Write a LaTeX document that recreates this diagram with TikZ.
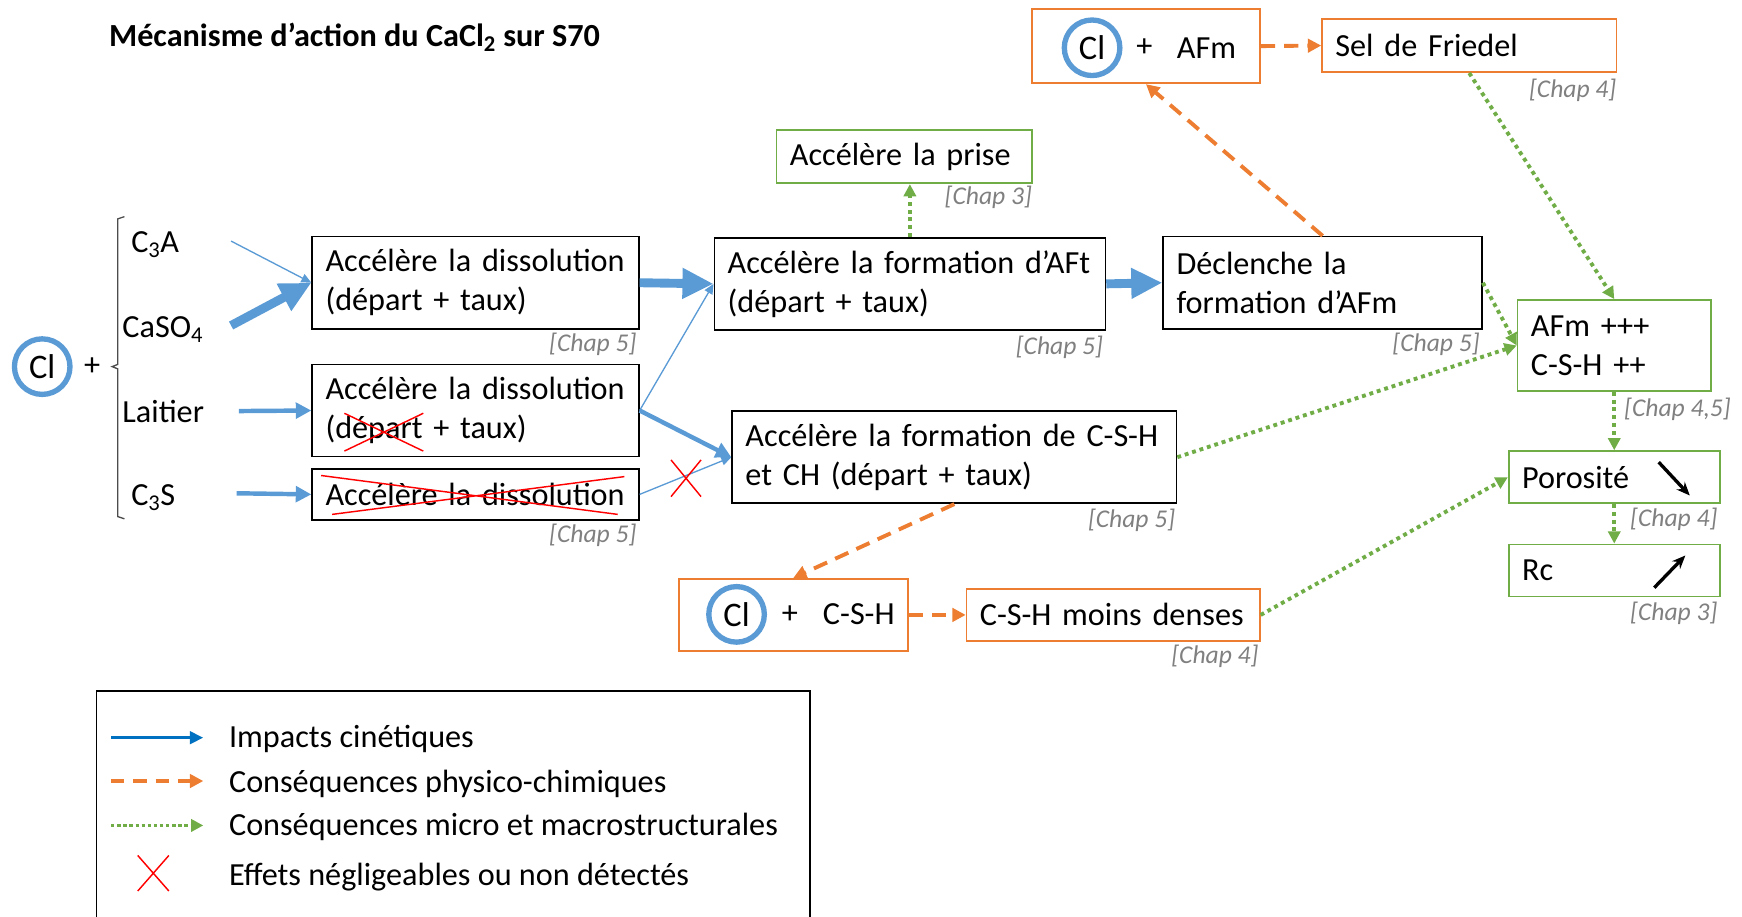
\documentclass[tikz,border=0pt]{standalone}
\usepackage{fontspec}
\setmainfont{Carlito}
\usetikzlibrary{arrows.meta,calc}
\definecolor{bl}{HTML}{5B9BD5}
\definecolor{og}{HTML}{ED7D31}
\definecolor{gr}{HTML}{70AD47}
\definecolor{dbl}{HTML}{0070C0}
\definecolor{chapgray}{HTML}{808080}
\begin{document}
\begin{tikzpicture}[x=1pt,y=-1pt,
 every node/.style={font=\fontsize{29}{35}\selectfont},
 box/.style={draw, line width=1.5pt, inner xsep=12pt, inner ysep=0pt, align=left, anchor=center},
 blackbox/.style={box, draw=black},
 obox/.style={box, draw=og},
 gbox/.style={box, draw=gr},
 chap/.style={font=\fontsize{23}{27}\selectfont\itshape, text=chapgray, anchor=east, inner sep=0pt},
 lbl/.style={anchor=base west, inner sep=0pt},
 clc/.style={circle, draw=bl, line width=4.8pt, minimum size=50pt, inner sep=0pt, font=\fontsize{31}{35}\selectfont},
 bthick/.style={draw=bl, line width=8pt, -{Triangle[length=28pt,width=26pt]}},
 bmed/.style={draw=bl, line width=4pt, -{Triangle[length=14pt,width=14pt]}},
 bthin/.style={draw=bl, line width=1.2pt, -{Triangle[length=9pt,width=8pt]}},
 gdot/.style={draw=gr, line width=3.5pt, dash pattern=on 3.5pt off 3.5pt, -{Triangle[length=11pt,width=11pt]}},
 odash/.style={draw=og, line width=3.5pt, dash pattern=on 13pt off 8pt, -{Triangle[length=12pt,width=12pt]}},
 redx/.style={draw=red, line width=1.3pt},
 blk/.style={draw=black, line width=3pt, -{Stealth[length=12pt,width=10pt]}}
]
\useasboundingbox (0,0) rectangle (1568,825);

% title
\node[anchor=base west, inner sep=0pt, font=\fontsize{29}{33}\selectfont\bfseries] (title) at (98,42) {Mécanisme d’action du CaCl\textsubscript{2} sur S70};

% left side
\node[clc] (cl0) at (38,330) {Cl};
\node[inner sep=0pt] (plus0) at (83,330) {+};
\draw[line width=1.2pt, black!70] (112,195) -- (106,197) -- (106,328) -- (101,330) -- (106,332) -- (106,465) -- (112,467);
\node[lbl] (c3a) at (118,227) {C\textsubscript{3}A};
\node[lbl] (caso) at (110,304) {CaSO\textsubscript{4}};
\node[lbl] (lait) at (110,380) {Laitier};
\node[lbl] (c3s) at (118,455) {C\textsubscript{3}S};

% boxes
\node[blackbox, text width=270pt, minimum height=83pt] (B1) at (428,254.5) {Accélère la dissolution\\(départ + taux)};
\node[blackbox, text width=270pt, minimum height=83pt] (B2) at (428,369.5) {Accélère la dissolution\\(départ + taux)};
\node[blackbox, text width=270pt, minimum height=46pt] (B3) at (428,445) {Accélère la dissolution};
\node[blackbox, text width=328pt, minimum height=83pt] (B4) at (819,255.5) {Accélère la formation d’AFt\\(départ + taux)};
\node[gbox, text width=206pt, minimum height=48pt] (B5) at (814,141) {Accélère la prise};
\node[blackbox, text width=263pt, minimum height=83pt] (B6) at (1190.5,254.5) {Déclenche la\\formation d’AFm};
\node[blackbox, text width=376pt, minimum height=83pt] (B7) at (859,411.5) {Accélère la formation de C-S-H\\et CH (départ + taux)};
\node[obox, minimum width=205pt, minimum height=67pt] (B8) at (1031.5,41.5) {};
\node[obox, text width=241pt, minimum height=48pt] (B9) at (1322.5,41) {Sel de Friedel};
\node[gbox, text width=150pt, minimum height=82pt] (B10) at (1453,311) {AFm +++\\C-S-H ++};
\node[gbox, text width=166pt, minimum height=47pt] (B11) at (1453,429.5) {Porosité};
\node[gbox, text width=166pt, minimum height=47pt] (B12) at (1453,513.5) {Rc};
\node[obox, minimum width=206pt, minimum height=65pt] (B13) at (714,553.5) {};
\node[obox, text width=240pt, minimum height=47pt] (B14) at (1002,553.5) {C-S-H moins denses};

% contents of orange boxes
\node[clc] (cl1) at (983,43) {Cl};
\node[inner sep=0pt] (plus1) at (1030,43) {+};
\node[inner sep=0pt] (afm) at (1086,43) {AFm};
\node[clc] (cl2) at (663,553) {Cl};
\node[inner sep=0pt] (plus2) at (711,553) {+};
\node[inner sep=0pt] (csh) at (773,553) {C-S-H};

% chap labels
\node[chap] (ch1) at (573,310) {[Chap 5]};
\node[chap] (ch3) at (573,482) {[Chap 5]};
\node[chap] (ch4) at (993,313) {[Chap 5]};
\node[chap] (ch5) at (929,178) {[Chap 3]};
\node[chap] (ch6) at (1332,310) {[Chap 5]};
\node[chap] (ch7) at (1058,468) {[Chap 5]};
\node[chap] (ch9) at (1455,81) {[Chap 4]};
\node[chap] (ch10) at (1558,368) {[Chap 4,5]};
\node[chap] (ch11) at (1546,467) {[Chap 4]};
\node[chap] (ch12) at (1546,552) {[Chap 3]};
\node[chap] (ch14) at (1133,591) {[Chap 4]};

% blue arrows
\coordinate (c3aout) at (208,217);
\coordinate (casoout) at (208,293);
\coordinate (laitout) at (215,370);
\coordinate (c3sout) at (213,444);
\draw[bthin] (c3aout) -- (B1.west);
\draw[bthick] (casoout) -- (B1.west);
\draw[bmed] (laitout) -- (B2.west);
\draw[bmed] (c3sout) -- (B3.west);
\draw[bthick] (B1.east) -- (B4.west);
\draw[bthin] (B2.east) -- (B4.west);
\draw[bmed] (B2.east) -- (B7.west);
\draw[bthin] (B3.east) -- (B7.west);
\draw[bthick] (B4.east) -- (B6.west);

% green dotted
\draw[gdot] (B4.north) -- (B4.north |- B5.south);
\draw[gdot] (B9.south) -- (B10.north);
\draw[gdot] ($(B6.north east)!0.5!(B6.south east)$) -- (B10.west);
\draw[gdot] (B7.east) -- (B10.west);
\draw[gdot] (B10.south) -- (B11.north);
\draw[gdot] (B11.south) -- (B12.north);
\draw[gdot] (B14.east) -- (B11.west);

% orange dashed
\draw[odash] (B6.north) -- (B8.south);
\draw[odash] (B8.east) -- (B9.west);
\draw[odash] (B7.south) -- (B13.north);
\draw[odash] (B13.east) -- (B14.west);

% red crosses
\draw[redx] (310,372) -- (381,406) (310,406) -- (381,372);
\draw[redx] (289,428) -- (556,463) (299,463) -- (562,429);
\draw[redx] (604,414) -- (631,447) (631,414) -- (604,447);

% trend arrows
\draw[blk] (1493,416) -- (1521,446);
\draw[blk] (1489,529) -- (1517,500);

% legend
\draw[line width=1.5pt] (87,840) -- (87,622) -- (729,622) -- (729,840);
\coordinate (l1a) at (100,664); \coordinate (l1b) at (183,664);
\coordinate (l2a) at (100,703); \coordinate (l2b) at (183,703);
\coordinate (l3a) at (100,743); \coordinate (l3b) at (183,743);
\draw[draw=dbl, line width=3pt, -{Triangle[length=12pt,width=11pt]}] (l1a) -- (l1b);
\draw[odash, line width=3.5pt, dash pattern=on 12pt off 8pt] (l2a) -- (l2b);
\draw[gdot, line width=3.5pt, dash pattern=on 3pt off 2.5pt] (l3a) -- (l3b);
\draw[redx] (124,770) -- (152,802) (152,770) -- (124,802);
\node[lbl] (t1) at (206,673) {Impacts cinétiques};
\node[lbl] (t2) at (206,713) {Conséquences physico-chimiques};
\node[lbl] (t3) at (206,752) {Conséquences micro et macrostructurales};
\node[lbl] (t4) at (206,797) {Effets négligeables ou non détectés};
\end{tikzpicture}
\end{document}
